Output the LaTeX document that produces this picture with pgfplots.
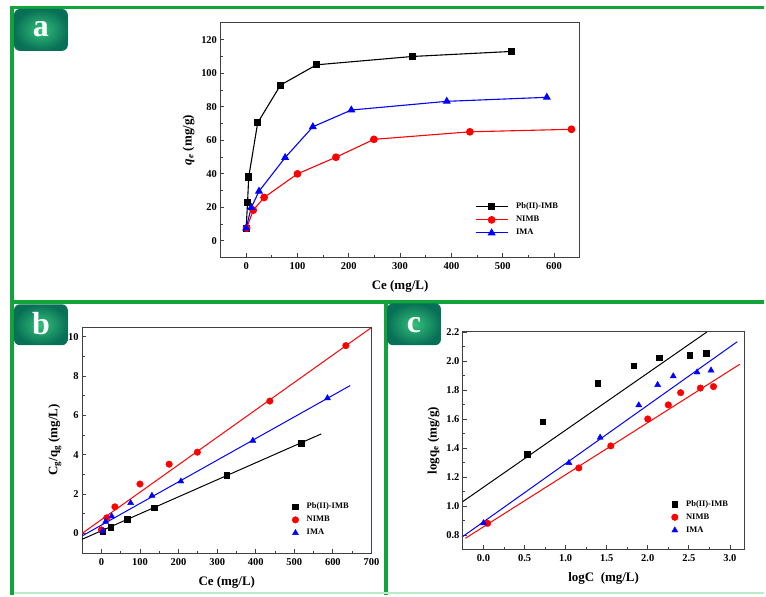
\documentclass[border=0pt]{standalone}
\usepackage{fontspec}
\setmainfont{Liberation Serif}
\usepackage{pgfplots}
\pgfplotsset{compat=1.18}
\definecolor{frameg}{RGB}{18,163,58}
\definecolor{lightg}{RGB}{185,236,200}
\definecolor{bc}{RGB}{52,192,122}
\definecolor{bo}{RGB}{8,112,86}
\definecolor{myred}{RGB}{255,0,0}
\definecolor{myblue}{RGB}{0,0,255}
\pgfplotsset{myax/.style={
  scale only axis,
  axis line style={black!75, line width=0.9pt},
  tick style={black!75, line width=0.8pt},
  major tick length=4pt, minor tick length=2.5pt,
  tick align=inside, tick pos=left, minor tick num=1,
  /pgf/number format/assume math mode=true,
  tick label style={font=\fontsize{10.5}{12}\selectfont\bfseries},
  xticklabel style={yshift=-2pt},
  label style={font=\fontsize{13}{15}\selectfont\bfseries},
  xlabel style={yshift=-4pt},
  legend style={draw=none, fill=none, font=\fontsize{8.5}{9.5}\selectfont\bfseries, row sep=2pt,
    /tikz/every odd column/.append style={column sep=6pt}},
  legend cell align=left,
}}
\begin{document}
\begin{tikzpicture}[x=1pt,y=1pt]
\fill[white] (0pt,0pt) rectangle (766pt,596pt);
% frames
\draw[frameg, line width=3.5pt] (10pt,588.5pt) -- (766pt,588.5pt);
\draw[frameg, line width=3.5pt] (12pt,0pt) -- (12pt,590.2pt);
\draw[frameg, line width=3.5pt] (12pt,293.5pt) -- (766pt,293.5pt);
\draw[frameg, line width=3.5pt] (387pt,0pt) -- (387pt,293.5pt);
\draw[lightg, line width=2.5pt] (13.7pt,1.5pt) -- (766pt,1.5pt);
% badges
\shade[rounded corners=6pt, inner color=bc, outer color=bo] (14pt,545pt) rectangle (68pt,587pt);
\node[white, anchor=base, font=\fontsize{32}{32}\selectfont\bfseries] at (41pt,559pt) {a};
\shade[rounded corners=6pt, inner color=bc, outer color=bo] (14pt,250pt) rectangle (68pt,291pt);
\node[white, anchor=base, font=\fontsize{32}{32}\selectfont\bfseries] at (41pt,261pt) {b};
\shade[rounded corners=6pt, inner color=bc, outer color=bo] (388pt,250pt) rectangle (442pt,292pt);
\node[white, anchor=base, font=\fontsize{32}{32}\selectfont\bfseries] at (415pt,263pt) {c};

% ---------- panel a
\begin{axis}[myax, at={(221pt,338pt)}, anchor=south west, width=360pt, height=235pt,
  xmin=-50, xmax=650, ymin=-10, ymax=130,
  xtick={0,100,...,600}, ytick={0,20,...,120},
  xlabel={Ce (mg/L)}, ylabel={{\itshape q\textsubscript{e}} (mg/g)},
  legend style={at={(0.70,0.25)}, anchor=north west},
  legend image code/.code={\draw[mark repeat=2,mark phase=2,#1] plot coordinates {(0pt,0pt) (16pt,0pt) (32pt,0pt)};},
  every axis plot/.append style={line width=1.1pt, mark options={solid}},
]
\addplot[black, mark=square*, mark size=3pt] coordinates {
(0,7.5) (2.7,22.7) (5,38) (22.5,70.4) (67,92.9) (137,105) (325,110) (518,113)};
\addlegendentry{Pb(II)-IMB}
\addplot[myred, mark=*, mark size=3.3pt] coordinates {
(1,7.5) (13.8,18.2) (35,25.8) (100,39.9) (175,49.8) (249,60.5) (436,65) (634,66.5)};
\addlegendentry{NIMB}
\addplot[myblue, mark=triangle*, mark size=3.6pt] coordinates {
(0,7.5) (10,19.8) (25,29.5) (76,49.6) (130,68) (205,78) (391,83.2) (586,85.6)};
\addlegendentry{IMA}
\end{axis}

% ---------- panel b
\begin{axis}[myax, at={(82.3pt,41.7pt)}, anchor=south west, width=290pt, height=226.6pt,
  xmin=-50, xmax=700, ymin=-1, ymax=10.5,
  xtick={0,100,...,700}, ytick={0,2,4,6,8,10},
  xlabel={Ce (mg/L)}, ylabel={C\textsubscript{g}/q\textsubscript{g} (mg/L)},
  legend style={at={(0.715,0.24)}, anchor=north west},
]
\addplot[black, only marks, mark=square*, mark size=2.8pt] coordinates {
(3.4,0.12) (24,0.32) (67,0.71) (137,1.30) (325,2.95) (517.5,4.59)};
\addlegendentry{Pb(II)-IMB}
\addplot[myred, only marks, mark=*, mark size=3.3pt] coordinates {
(0,0.18) (13.8,0.79) (35,1.35) (100,2.51) (175.6,3.52) (248.8,4.13) (436.6,6.73) (633.7,9.55)};
\addlegendentry{NIMB}
\addplot[myblue, only marks, mark=triangle*, mark size=3.5pt] coordinates {
(3.4,0.12) (11,0.6) (26.7,0.87) (75.8,1.55) (131,1.92) (206,2.65) (392.6,4.72) (586,6.88)};
\addlegendentry{IMA}
\addplot[black, line width=1pt, forget plot] coordinates {(-50,-0.30) (570,5.06)};
\addplot[myred, line width=1pt, forget plot] coordinates {(-50,0.0) (700,10.47)};
\addplot[myblue, line width=1pt, forget plot] coordinates {(-50,-0.13) (645,7.52)};
\end{axis}

% ---------- panel c
\begin{axis}[myax, at={(464pt,45.3pt)}, anchor=south west, width=282pt, height=218pt,
  xmin=-0.25, xmax=3.175, ymin=0.7, ymax=2.2,
  xtick={0,0.5,1,1.5,2,2.5,3}, ytick={0.8,1.0,1.2,1.4,1.6,1.8,2.0,2.2},
  xticklabel style={/pgf/number format/.cd, fixed, fixed zerofill, precision=1},
  yticklabel style={/pgf/number format/.cd, fixed, fixed zerofill, precision=1},
  xlabel={logC\ \ (mg/L)}, ylabel={logq\textsubscript{e} (mg/g)},
  legend style={at={(0.73,0.245)}, anchor=north west},
]
\addplot[black, only marks, mark=square*, mark size=2.8pt] coordinates {
(0.53,1.356) (0.72,1.58) (1.39,1.848) (1.83,1.968) (2.14,2.022) (2.51,2.041) (2.71,2.053)};
\addlegendentry{Pb(II)-IMB}
\addplot[myred, only marks, mark=*, mark size=3.3pt] coordinates {
(0.05,0.88) (1.16,1.262) (1.55,1.414) (2.0,1.60) (2.25,1.697) (2.40,1.781) (2.64,1.813) (2.80,1.823)};
\addlegendentry{NIMB}
\addplot[myblue, only marks, mark=triangle*, mark size=3.5pt] coordinates {
(0.0,0.882) (1.04,1.297) (1.42,1.472) (1.89,1.695) (2.12,1.835) (2.31,1.895) (2.60,1.922) (2.77,1.935)};
\addlegendentry{IMA}
\addplot[black, line width=1pt, forget plot] coordinates {(-0.25,1.031) (2.72,2.2)};
\addplot[myred, line width=1pt, forget plot] coordinates {(-0.22,0.777) (3.12,1.977)};
\addplot[myblue, line width=1pt, forget plot] coordinates {(-0.25,0.79) (3.09,2.133)};
\end{axis}
\end{tikzpicture}
\end{document}
